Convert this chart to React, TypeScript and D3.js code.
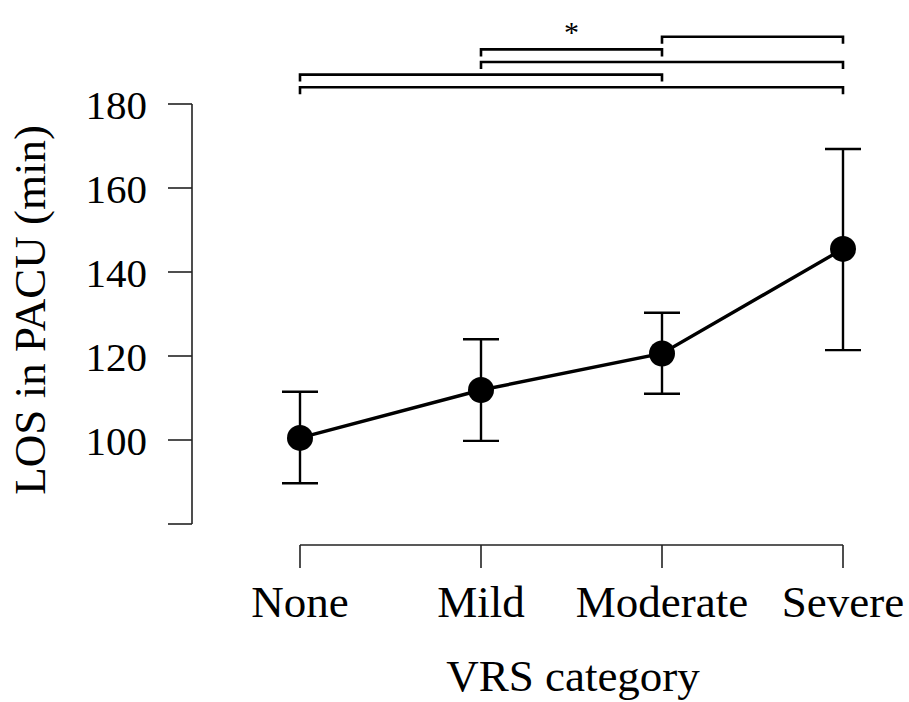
import React from "react";
import * as d3 from "d3";

const categories = ["None", "Mild", "Moderate", "Severe"];
const means = [100.5, 111.9, 120.6, 145.5];
const lowerCI = [89.7, 99.8, 111.0, 121.4];
const upperCI = [111.5, 124.0, 130.3, 169.3];
const yTicks = [80, 100, 120, 140, 160, 180];
const yTickLabels = ["", "100", "120", "140", "160", "180"];
// comparison brackets: [fromIndex, toIndex, level (data units), star]
const bracketFrom = [0, 0, 1, 1, 2];
const bracketTo = [3, 2, 3, 2, 3];
const bracketLevel = [184, 187, 190, 193, 196];
const bracketLabel = ["", "", "", "*", ""];

const W = 909;
const H = 702;
const FONT = "'Liberation Serif', 'Times New Roman', Times, serif";

export default function App() {
  const x = d3.scalePoint<string>().domain(categories).range([300, 843]);
  const y = d3.scaleLinear().domain([80, 180]).range([524, 104]);
  const axisX = 192;
  const axisY = 545;
  const tickLen = 24;

  const line = d3
    .line<number>()
    .x((_, i) => x(categories[i]) as number)
    .y((d) => y(d));

  return (
    <svg
      width={W}
      height={H}
      style={{ position: "absolute", left: 0, top: 0, background: "#fff" }}
      fontFamily={FONT}
    >
      <rect width={W} height={H} fill="#fff" />
      {/* Y axis */}
      <line x1={axisX} x2={axisX} y1={y(180)} y2={y(80)} stroke="#222" strokeWidth={1.6} />
      {yTicks.map((t, i) => (
        <g key={t}>
          <line x1={axisX - tickLen} x2={axisX} y1={y(t)} y2={y(t)} stroke="#222" strokeWidth={1.6} />
          <text x={147} y={y(t) + 15} textAnchor="end" fontSize={41} fill="#000">
            {yTickLabels[i]}
          </text>
        </g>
      ))}
      <text
        transform={`translate(45, ${y(131)}) rotate(-90)`}
        textAnchor="middle"
        fontSize={45}
        fill="#000"
      >
        LOS in PACU (min)
      </text>

      {/* X axis */}
      <line
        x1={x(categories[0])}
        x2={x(categories[categories.length - 1])}
        y1={axisY}
        y2={axisY}
        stroke="#222"
        strokeWidth={1.6}
      />
      {categories.map((c) => (
        <g key={c}>
          <line x1={x(c)} x2={x(c)} y1={axisY} y2={axisY + 23} stroke="#222" strokeWidth={1.6} />
          <text x={x(c)} y={617} textAnchor="middle" fontSize={45} fill="#000">
            {c}
          </text>
        </g>
      ))}
      <text x={573} y={691} textAnchor="middle" fontSize={45} fill="#000">
        VRS category
      </text>

      {/* connecting line */}
      <path d={line(means) || ""} fill="none" stroke="#000" strokeWidth={3.4} />

      {/* error bars */}
      {categories.map((c, i) => {
        const cx = x(c) as number;
        return (
          <g key={c} stroke="#000" strokeWidth={2.4}>
            <line x1={cx} x2={cx} y1={y(upperCI[i])} y2={y(lowerCI[i])} />
            <line x1={cx - 18} x2={cx + 18} y1={y(upperCI[i])} y2={y(upperCI[i])} />
            <line x1={cx - 18} x2={cx + 18} y1={y(lowerCI[i])} y2={y(lowerCI[i])} />
          </g>
        );
      })}
      {categories.map((c, i) => (
        <circle key={c} cx={x(c)} cy={y(means[i])} r={13} fill="#000" />
      ))}

      {/* comparison brackets */}
      {bracketLevel.map((lv, k) => {
        const x1 = x(categories[bracketFrom[k]]) as number;
        const x2 = x(categories[bracketTo[k]]) as number;
        const yy = y(lv);
        return (
          <g key={k}>
            <path
              d={`M${x1},${yy + 7} V${yy} H${x2} V${yy + 7}`}
              fill="none"
              stroke="#000"
              strokeWidth={2.6}
            />
            {bracketLabel[k] && (
              <text x={(x1 + x2) / 2} y={yy - 7} textAnchor="middle" fontSize={30} fill="#000">
                {bracketLabel[k]}
              </text>
            )}
          </g>
        );
      })}
    </svg>
  );
}
